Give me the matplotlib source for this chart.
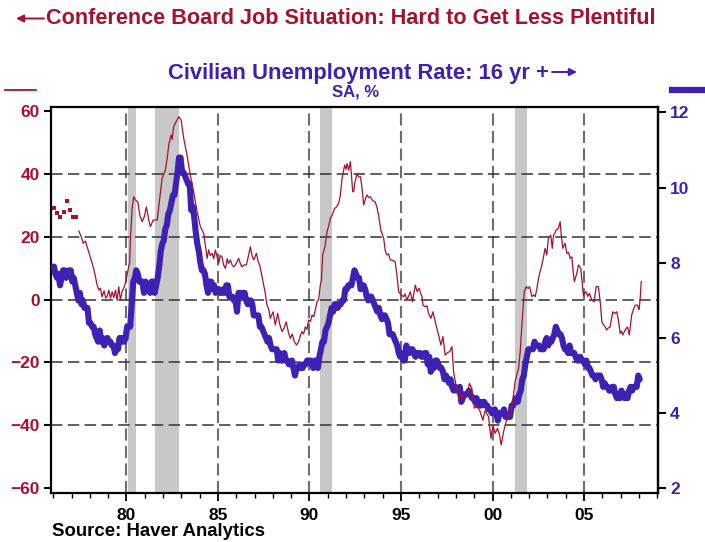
import numpy as np
import matplotlib
matplotlib.use('Agg')
import matplotlib.pyplot as plt
from matplotlib.lines import Line2D
from matplotlib.patches import FancyArrowPatch

plt.rcParams['font.family'] = ['Liberation Sans', 'DejaVu Sans']
plt.rcParams['font.weight'] = 'bold'

RED = '#A8102E'
BLUE = '#3E20B2'

# ---------------- data ----------------
# Civilian unemployment rate, monthly from Jan 1976 to Jan 2008 (%)
unrate = [
    7.9, 7.7, 7.6, 7.7, 7.4, 7.6, 7.8, 7.8, 7.6, 7.7, 7.8, 7.8,
    7.5, 7.6, 7.4, 7.2, 7.0, 7.2, 6.9, 7.0, 6.8, 6.8, 6.8, 6.4,
    6.4, 6.3, 6.3, 6.1, 6.0, 5.9, 6.2, 5.9, 6.0, 5.8, 5.9, 6.0,
    5.9, 5.9, 5.8, 5.8, 5.6, 5.7, 5.7, 6.0, 5.9, 6.0, 5.9, 6.0,
    6.3, 6.3, 6.3, 6.9, 7.5, 7.6, 7.8, 7.7, 7.5, 7.5, 7.5, 7.2,
    7.5, 7.4, 7.4, 7.2, 7.5, 7.5, 7.2, 7.4, 7.6, 7.9, 8.3, 8.5,
    8.6, 8.9, 9.0, 9.3, 9.4, 9.6, 9.8, 9.8, 10.1, 10.4, 10.8, 10.8,
    10.4, 10.4, 10.3, 10.2, 10.1, 10.1, 9.4, 9.5, 9.2, 8.8, 8.5, 8.3,
    8.0, 7.8, 7.8, 7.7, 7.4, 7.2, 7.5, 7.5, 7.3, 7.4, 7.2, 7.3,
    7.3, 7.2, 7.2, 7.3, 7.2, 7.4, 7.4, 7.1, 7.1, 7.1, 7.0, 7.0,
    6.7, 7.2, 7.2, 7.1, 7.2, 7.2, 7.0, 6.9, 7.0, 7.0, 6.9, 6.6,
    6.6, 6.6, 6.6, 6.3, 6.3, 6.2, 6.1, 6.0, 5.9, 6.0, 5.8, 5.7,
    5.7, 5.7, 5.7, 5.4, 5.6, 5.4, 5.4, 5.6, 5.4, 5.4, 5.3, 5.3,
    5.4, 5.2, 5.0, 5.2, 5.2, 5.3, 5.2, 5.2, 5.3, 5.3, 5.4, 5.4,
    5.4, 5.3, 5.2, 5.4, 5.4, 5.2, 5.5, 5.7, 5.9, 5.9, 6.2, 6.3,
    6.4, 6.6, 6.8, 6.7, 6.9, 6.9, 6.8, 6.9, 6.9, 7.0, 7.0, 7.3,
    7.3, 7.4, 7.4, 7.4, 7.6, 7.8, 7.7, 7.6, 7.6, 7.3, 7.4, 7.4,
    7.3, 7.1, 7.0, 7.1, 7.1, 7.0, 6.9, 6.8, 6.7, 6.8, 6.6, 6.5,
    6.6, 6.6, 6.5, 6.4, 6.1, 6.1, 6.1, 6.0, 5.9, 5.8, 5.6, 5.5,
    5.6, 5.4, 5.4, 5.8, 5.6, 5.6, 5.7, 5.7, 5.6, 5.5, 5.6, 5.6,
    5.6, 5.5, 5.5, 5.6, 5.6, 5.3, 5.5, 5.1, 5.2, 5.2, 5.4, 5.4,
    5.3, 5.2, 5.2, 5.1, 4.9, 5.0, 4.9, 4.8, 4.9, 4.7, 4.6, 4.7,
    4.6, 4.6, 4.7, 4.3, 4.4, 4.5, 4.5, 4.5, 4.6, 4.5, 4.4, 4.4,
    4.3, 4.4, 4.2, 4.3, 4.2, 4.3, 4.3, 4.2, 4.2, 4.1, 4.1, 4.0,
    4.0, 4.1, 4.0, 3.8, 4.0, 4.0, 4.0, 4.1, 3.9, 3.9, 3.9, 3.9,
    4.2, 4.2, 4.3, 4.4, 4.3, 4.5, 4.6, 4.9, 5.0, 5.3, 5.5, 5.7,
    5.7, 5.7, 5.7, 5.9, 5.8, 5.8, 5.8, 5.7, 5.7, 5.7, 5.9, 6.0,
    5.8, 5.9, 5.9, 6.0, 6.1, 6.3, 6.2, 6.1, 6.1, 6.0, 5.8, 5.7,
    5.7, 5.6, 5.8, 5.6, 5.6, 5.6, 5.5, 5.4, 5.4, 5.5, 5.4, 5.4,
    5.3, 5.4, 5.2, 5.2, 5.1, 5.0, 5.0, 4.9, 5.0, 5.0, 5.0, 4.9,
    4.7, 4.8, 4.7, 4.7, 4.6, 4.6, 4.7, 4.7, 4.5, 4.4, 4.5, 4.4,
    4.6, 4.5, 4.4, 4.5, 4.4, 4.6, 4.7, 4.6, 4.7, 4.7, 4.7, 5.0,
    4.9,
]
unrate_start_year = 1976

# Conference Board: jobs hard to get less jobs plentiful
# early bimonthly observations (isolated dots)
cb_dot_dates = [1976.03, 1976.21, 1976.39, 1976.57, 1976.76, 1976.94, 1977.08, 1977.22]
cb_dot_vals = [29.0, 27.6, 26.4, 28.0, 31.4, 28.5, 26.4, 26.4]

cb_dates = [
    1977.40, 1977.53, 1977.64, 1977.76, 1977.94, 1978.13, 1978.25, 1978.40, 1978.50, 1978.58,
    1978.67, 1978.78, 1978.87, 1978.95, 1979.04, 1979.13, 1979.22, 1979.31, 1979.40, 1979.49,
    1979.58, 1979.67, 1979.76, 1979.89, 1980.00, 1980.07, 1980.18, 1980.22, 1980.31, 1980.40,
    1980.49, 1980.62, 1980.73, 1980.86, 1980.98, 1981.09, 1981.22, 1981.31, 1981.46, 1981.68,
    1981.82, 1981.95, 1982.13, 1982.25, 1982.31, 1982.44, 1982.50, 1982.58, 1982.73, 1982.86,
    1982.99, 1983.13, 1983.31, 1983.49, 1983.67, 1983.86, 1984.04, 1984.22, 1984.41, 1984.49,
    1984.58, 1984.68, 1984.77, 1984.86, 1985.04, 1985.13, 1985.22, 1985.31, 1985.41, 1985.50,
    1985.58, 1985.68, 1985.77, 1985.86, 1985.95, 1986.04, 1986.13, 1986.22, 1986.31, 1986.42,
    1986.55, 1986.65, 1986.77, 1986.86, 1986.95, 1987.10, 1987.20, 1987.28, 1987.38, 1987.46,
    1987.57, 1987.68, 1987.77, 1987.86, 1988.01, 1988.13, 1988.26, 1988.38, 1988.50, 1988.62,
    1988.73, 1988.85, 1988.95, 1989.06, 1989.17, 1989.29, 1989.41, 1989.50, 1989.59, 1989.68,
    1989.77, 1989.86, 1989.95, 1990.05, 1990.14, 1990.23, 1990.32, 1990.41, 1990.50, 1990.59,
    1990.65, 1990.72, 1990.85, 1990.96, 1991.05, 1991.14, 1991.25, 1991.37, 1991.48, 1991.59,
    1991.68, 1991.78, 1991.92, 1992.00, 1992.05, 1992.14, 1992.23, 1992.30, 1992.36, 1992.42,
    1992.47, 1992.53, 1992.60, 1992.68, 1992.78, 1992.87, 1992.96, 1993.05, 1993.14, 1993.23,
    1993.32, 1993.45, 1993.59, 1993.68, 1993.77, 1993.90, 1994.05, 1994.14, 1994.23, 1994.32,
    1994.41, 1994.55, 1994.68, 1994.77, 1994.87, 1995.00, 1995.14, 1995.22, 1995.32, 1995.41,
    1995.50, 1995.57, 1995.63, 1995.70, 1995.78, 1995.88, 1995.99, 1996.07, 1996.14, 1996.20,
    1996.32, 1996.42, 1996.50, 1996.63, 1996.74, 1996.87, 1996.95, 1997.05, 1997.18, 1997.29,
    1997.41, 1997.52, 1997.65, 1997.78, 1997.87, 1998.02, 1998.10, 1998.20, 1998.32, 1998.45,
    1998.60, 1998.74, 1998.87, 1999.00, 1999.14, 1999.23, 1999.32, 1999.47, 1999.60, 1999.70,
    1999.78, 1999.91, 2000.02, 2000.14, 2000.27, 2000.38, 2000.47, 2000.60, 2000.74, 2000.87,
    2000.95, 2001.05, 2001.15, 2001.23, 2001.32, 2001.42, 2001.51, 2001.60, 2001.73, 2001.84,
    2001.94, 2002.02, 2002.15, 2002.25, 2002.33, 2002.42, 2002.51, 2002.60, 2002.69, 2002.75,
    2002.87, 2002.96, 2003.05, 2003.18, 2003.26, 2003.33, 2003.40, 2003.47, 2003.60, 2003.69,
    2003.76, 2003.84, 2003.96, 2004.06, 2004.15, 2004.24, 2004.33, 2004.40, 2004.47, 2004.60,
    2004.69, 2004.82, 2004.90, 2004.96, 2005.11, 2005.20, 2005.29, 2005.42, 2005.55, 2005.66,
    2005.78, 2005.88, 2005.97, 2006.06, 2006.15, 2006.24, 2006.33, 2006.42, 2006.50, 2006.57,
    2006.69, 2006.79, 2006.87, 2006.97, 2007.04, 2007.11, 2007.24, 2007.37, 2007.47, 2007.60,
    2007.70, 2007.79, 2007.91, 2008.00, 2008.06, 2008.12,
]
cb_vals = [
    21.8, 20.0, 17.9, 18.6, 15.2, 11.5, 8.9, 4.6, 3.0, 3.6,
    0.9, 2.8, 0.5, 0.9, 3.0, 0.4, 2.5, 0.6, 3.0, -0.2,
    4.1, -0.2, 2.5, 4.1, 6.7, 8.9, 12.0, 19.5, 29.0, 32.7,
    31.7, 31.1, 26.9, 24.8, 26.4, 29.5, 25.3, 23.2, 25.3, 25.3,
    32.2, 38.6, 41.2, 46.0, 49.2, 52.4, 51.0, 55.0, 56.8, 58.2,
    57.1, 51.3, 46.0, 39.6, 34.3, 28.0, 23.2, 21.1, 13.1, 15.8,
    14.0, 14.7, 13.0, 15.8, 11.5, 14.0, 13.6, 11.0, 9.9, 13.0,
    11.5, 12.6, 11.0, 10.4, 11.0, 12.0, 13.1, 11.5, 10.4, 11.0,
    11.0, 13.5, 16.8, 14.0, 12.6, 14.7, 12.0, 11.0, 8.0, 5.7,
    2.5, -1.8, -3.0, -6.0, -3.9, -8.1, -4.4, -8.0, -10.2, -9.0,
    -7.1, -10.5, -12.4, -11.0, -13.4, -14.5, -13.4, -11.5, -10.2, -11.0,
    -8.7, -9.5, -6.5, -7.0, -4.9, -5.5, -3.3, -0.7, 0.0, 4.6,
    6.0, 14.2, 17.0, 21.6, 23.5, 25.8, 27.0, 29.0, 29.5, 30.6,
    33.0, 38.6, 42.8, 41.5, 43.3, 41.2, 43.9, 39.0, 34.3, 34.5,
    37.0, 38.5, 40.2, 39.0, 39.1, 35.5, 30.1, 32.0, 33.3, 32.5,
    32.7, 31.5, 31.1, 29.5, 26.9, 22.0, 19.5, 15.5, 14.2, 14.5,
    12.6, 12.5, 12.0, 8.0, 2.5, 1.5, 0.9, 1.8, 0.0, 1.0,
    2.5, 1.0, -0.7, 2.0, 4.6, 2.5, 3.6, 2.0, 1.0, -1.8,
    -2.3, -2.0, -4.4, -6.0, -3.9, -7.1, -9.0, -11.3, -14.5, -11.8,
    -17.7, -17.0, -16.6, -15.0, -23.0, -27.8, -30.0, -32.0, -29.9, -31.5,
    -30.4, -26.7, -28.3, -34.6, -33.6, -34.5, -35.7, -38.4, -35.2, -36.5,
    -37.3, -44.2, -40.0, -42.6, -41.0, -43.1, -46.3, -42.1, -38.9, -37.8,
    -36.0, -33.6, -30.0, -26.2, -24.0, -21.9, -16.6, -8.1, 2.5, 4.1,
    3.5, 4.1, 0.9, 1.5, 0.9, 3.5, 6.7, 9.0, 11.0, 12.6,
    16.3, 14.2, 19.5, 20.5, 16.3, 20.5, 21.0, 22.1, 22.7, 24.8,
    20.0, 16.3, 17.9, 14.7, 15.0, 13.1, 13.6, 9.0, 5.7, 8.3,
    11.0, 9.9, 5.0, 1.4, 2.5, 1.0, 2.0, -0.2, -0.7, 4.1,
    4.1, -0.7, -7.1, -8.0, -8.7, -9.7, -9.0, -8.7, -6.0, -3.9,
    -4.4, -3.9, -6.5, -10.8, -10.0, -11.3, -9.7, -8.7, -11.3, -4.9,
    -3.0, -1.8, -1.8, -3.3, 0.0, 5.7,
]

# NBER recessions (start, end) in decimal years
recessions = [(1980.08, 1980.54), (1981.55, 1982.87), (1990.58, 1991.21), (2001.21, 2001.87)]

x_major = [1980, 1985, 1990, 1995, 2000, 2005]
x_major_labels = ['80', '85', '90', '95', '00', '05']
left_ticks = [-60, -40, -20, 0, 20, 40, 60]
right_ticks = [2, 4, 6, 8, 10, 12]

# ---------------- figure ----------------
W, H = 705, 542
fig = plt.figure(figsize=(W / 100, H / 100), dpi=100)
L, R, T, B = 51, 657.7, 107, 492.7
ax = fig.add_axes([L / W, 1 - B / H, (R - L) / W, (B - T) / H])
ax2 = ax.twinx()   # right scale, blue line
ax3 = ax.twinx()   # left scale, red line on top

xlim = (1975.88, 2009.02)
for a in (ax, ax2, ax3):
    a.set_xlim(*xlim)
ax.set_ylim(-61.5, 61.3)
ax3.set_ylim(-61.5, 61.3)
ax2.set_ylim(1.883, 12.146)

# recession shading
for s, e in recessions:
    ax.axvspan(s, e, color='#C8C8C8', lw=0, zorder=0)

# grid
for xv in x_major:
    ax.axvline(xv, color='#6E6E6E', lw=1.5, ls=(0, (5.8, 2.6)), zorder=1)
for yv in left_ticks[1:-1]:
    ax.axhline(yv, color='#333333', lw=1.1, ls=(0, (7.5, 3.5)), zorder=1)

# blue line
uyears = unrate_start_year + np.arange(len(unrate)) / 12.0 + 0.04
ax2.plot(uyears, unrate, color=BLUE, lw=4.4, solid_capstyle='round', solid_joinstyle='round')

# red line + early dots
ax3.plot(cb_dates, cb_vals, color=RED, lw=0.9)
ax3.plot(cb_dot_dates, cb_dot_vals, ls='none', marker='s', ms=2.2, color=RED, mew=0)

# ticks
ax.set_xticks(x_major)
ax.set_xticklabels(x_major_labels)
ax.set_xticks(np.arange(1976, 2010, 1), minor=True)
ax.tick_params(axis='x', which='major', direction='out', length=6, width=1.3,
               labelsize=12.5, pad=5, labelcolor='black')
ax.tick_params(axis='x', which='minor', direction='out', length=3.5, width=1.0)
ax.set_yticks(left_ticks)
ax.tick_params(axis='y', which='major', direction='out', length=5, width=1.5,
               labelsize=12.5, labelcolor=RED, pad=3)
for lab in ax.get_xticklabels() + ax.get_yticklabels():
    lab.set_fontweight('bold')

ax2.set_yticks(right_ticks)
ax2.tick_params(axis='y', which='major', direction='out', length=6, width=1.5,
                labelsize=12.5, labelcolor=BLUE, pad=3)
for lab in ax2.get_yticklabels():
    lab.set_fontweight('bold')

ax3.set_yticks([])
ax3.tick_params(axis='x', which='both', bottom=False, labelbottom=False)
ax2.tick_params(axis='x', which='both', bottom=False, labelbottom=False)
for a in (ax2, ax3):
    for sp in a.spines.values():
        sp.set_visible(False)
for sp in ax.spines.values():
    sp.set_linewidth(1.6)
    sp.set_color('black')
ax2.spines['right'].set_visible(True)
ax2.spines['right'].set_linewidth(1.6)

# ---------------- text ----------------
def fx(x):
    return x / W

def fy(y):
    return 1 - y / H

# red title with a thin long arrow
fig.add_artist(FancyArrowPatch((fx(44), fy(18.5)), (fx(16), fy(18.5)),
                               transform=fig.transFigure, arrowstyle='-|>',
                               mutation_scale=11, lw=1.4, color=RED, shrinkA=0, shrinkB=0))
fig.text(fx(46), fy(19), 'Conference Board Job Situation: Hard to Get Less Plentiful',
         color=RED, fontsize=15.6, fontweight='bold', ha='left', va='center')

fig.text(fx(549), fy(74), 'Civilian Unemployment Rate: 16 yr +',
         color=BLUE, fontsize=15.8, fontweight='bold', ha='right', va='center')
fig.add_artist(FancyArrowPatch((fx(552), fy(72)), (fx(577), fy(72)),
                               transform=fig.transFigure, arrowstyle='-|>',
                               mutation_scale=11, lw=1.4, color=BLUE, shrinkA=0, shrinkB=0))
fig.text(fx(356), fy(92), 'SA, %', color=BLUE, fontsize=12, fontweight='bold',
         ha='center', va='center')
fig.text(fx(52), fy(531), 'Source: Haver Analytics', color='black', fontsize=13.4,
         fontweight='bold', ha='left', va='center')

# legend keys
fig.add_artist(Line2D([fx(5), fx(36)], [fy(89.5), fy(89.5)], color=RED, lw=1.3))
fig.add_artist(Line2D([fx(672), fx(705)], [fy(89.5), fy(89.5)], color=BLUE, lw=4.5))

fig.savefig('out.png', dpi=100)
